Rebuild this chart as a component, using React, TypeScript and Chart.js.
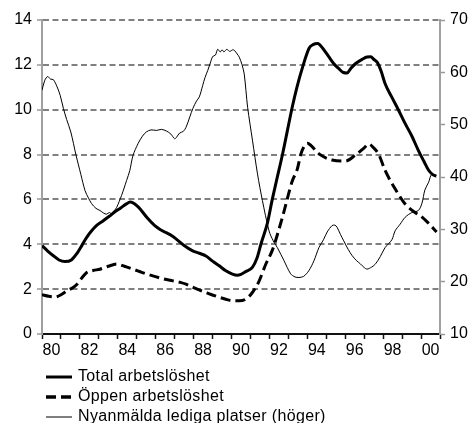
import React, { useEffect, useRef } from "react";
import { Chart, registerables } from "chart.js";

Chart.register(...registerables);

// ---- Data ----
const totalYears = [1980.0, 1980.3, 1980.6, 1980.9, 1981.2, 1981.55, 1981.85, 1982.1, 1982.35, 1982.62, 1982.9, 1983.23, 1983.55, 1983.85, 1984.15, 1984.45, 1984.65, 1984.8, 1985.0, 1985.2, 1985.55, 1985.95, 1986.25, 1986.55, 1986.85, 1987.1, 1987.5, 1987.95, 1988.3, 1988.65, 1989.0, 1989.35, 1989.7, 1990.05, 1990.3, 1990.5, 1990.75, 1991.1, 1991.35, 1991.55, 1991.9, 1992.15, 1992.35, 1992.7, 1993.2, 1993.45, 1993.75, 1994.1, 1994.3, 1994.55, 1994.8, 1995.1, 1995.4, 1995.65, 1995.9, 1996.1, 1996.3, 1996.55, 1996.9, 1997.15, 1997.35, 1997.5, 1997.7, 1997.9, 1998.1, 1998.45, 1998.8, 1999.15, 1999.5, 1999.85, 2000.15, 2000.4, 2000.6, 2000.8];
const totalValues = [3.94, 3.7, 3.49, 3.3, 3.23, 3.3, 3.6, 3.94, 4.3, 4.6, 4.85, 5.05, 5.25, 5.45, 5.62, 5.8, 5.88, 5.85, 5.72, 5.55, 5.18, 4.83, 4.65, 4.52, 4.38, 4.22, 3.95, 3.71, 3.6, 3.48, 3.25, 3.04, 2.82, 2.67, 2.62, 2.66, 2.78, 2.97, 3.4, 4.0, 4.97, 6.0, 6.75, 8.05, 10.1, 11.0, 11.9, 12.75, 12.9, 12.95, 12.75, 12.4, 12.05, 11.84, 11.66, 11.64, 11.85, 12.06, 12.25, 12.35, 12.36, 12.25, 12.1, 11.7, 11.17, 10.57, 10.0, 9.4, 8.85, 8.2, 7.7, 7.3, 7.12, 7.03];

const oppenYears = [1980.0, 1980.35, 1980.7, 1981.0, 1981.3, 1981.6, 1981.85, 1982.1, 1982.36, 1982.7, 1983.05, 1983.5, 1983.95, 1984.35, 1984.8, 1985.3, 1985.85, 1986.4, 1986.9, 1987.3, 1987.6, 1988.1, 1988.65, 1989.2, 1989.7, 1990.0, 1990.4, 1990.76, 1991.1, 1991.46, 1991.8, 1992.16, 1992.68, 1993.21, 1993.47, 1993.65, 1993.82, 1994.0, 1994.2, 1994.6, 1995.3, 1996.0, 1996.54, 1997.0, 1997.24, 1997.5, 1997.76, 1998.11, 1998.7, 1999.16, 1999.68, 2000.0, 2000.38, 2000.82];
const oppenValues = [1.75, 1.68, 1.65, 1.75, 1.92, 2.05, 2.22, 2.5, 2.74, 2.83, 2.89, 3.02, 3.12, 3.02, 2.89, 2.74, 2.59, 2.46, 2.37, 2.3, 2.22, 2.03, 1.85, 1.68, 1.55, 1.49, 1.48, 1.56, 1.85, 2.37, 3.1, 3.75, 5.19, 6.83, 7.35, 8.0, 8.35, 8.5, 8.4, 8.04, 7.76, 7.71, 7.98, 8.3, 8.47, 8.3, 8.02, 7.28, 6.38, 5.8, 5.42, 5.25, 4.95, 4.55];

const platserYears = [1980.0, 1980.15, 1980.3, 1980.45, 1980.6, 1980.8, 1980.96, 1981.13, 1981.3, 1981.52, 1981.8, 1982.05, 1982.27, 1982.45, 1982.62, 1982.85, 1983.06, 1983.25, 1983.4, 1983.55, 1983.67, 1983.8, 1983.94, 1984.2, 1984.46, 1984.63, 1984.8, 1985.07, 1985.3, 1985.5, 1985.75, 1986.04, 1986.3, 1986.56, 1986.8, 1987.0, 1987.1, 1987.26, 1987.45, 1987.6, 1987.8, 1987.96, 1988.15, 1988.3, 1988.48, 1988.6, 1988.75, 1988.9, 1989.0, 1989.15, 1989.27, 1989.4, 1989.5, 1989.6, 1989.75, 1989.9, 1990.06, 1990.15, 1990.3, 1990.41, 1990.55, 1990.67, 1990.85, 1991.11, 1991.37, 1991.63, 1991.98, 1992.2, 1992.42, 1992.77, 1993.12, 1993.35, 1993.56, 1993.8, 1994.08, 1994.35, 1994.61, 1994.85, 1995.05, 1995.3, 1995.45, 1995.57, 1995.75, 1995.92, 1996.15, 1996.36, 1996.6, 1996.8, 1997.0, 1997.15, 1997.4, 1997.6, 1997.85, 1998.1, 1998.46, 1998.63, 1998.9, 1999.16, 1999.51, 1999.86, 2000.05, 2000.2, 2000.4, 2000.56, 2000.8];
const platserValues = [56.6, 58.5, 59.2, 58.7, 58.6, 57.2, 55.6, 53.1, 51.0, 48.6, 44.1, 40.5, 37.4, 36.0, 34.9, 34.0, 33.6, 33.1, 32.9, 33.2, 33.0, 33.5, 34.2, 36.5, 39.3, 41.2, 44.1, 46.4, 47.8, 48.6, 49.0, 48.9, 49.1, 48.8, 48.2, 47.3, 47.6, 48.4, 48.7, 49.5, 51.5, 53.1, 54.5, 55.3, 57.5, 59.0, 60.4, 62.0, 63.0, 63.3, 64.4, 63.9, 64.3, 63.9, 64.4, 64.0, 64.3, 64.2, 63.5, 62.9, 61.5, 59.7, 53.3, 46.9, 40.6, 35.5, 29.7, 27.8, 26.5, 24.0, 21.5, 20.9, 20.8, 21.0, 22.1, 24.0, 26.5, 28.0, 29.5, 30.7, 30.8, 30.4, 29.0, 27.8, 26.2, 25.0, 24.0, 23.4, 22.7, 22.4, 22.8, 23.4, 24.8, 26.5, 28.0, 29.7, 31.0, 32.3, 33.2, 33.6, 35.0, 37.5, 39.0, 40.5, 40.0];

const seriesNames = ["Total arbetslöshet", "Öppen arbetslöshet", "Nyanmälda lediga platser (höger)"];

const xMin = 1980;
const xMax = 2001;
const labelYears = [1980, 1982, 1984, 1986, 1988, 1990, 1992, 1994, 1996, 1998, 2000];
const leftMin = 0, leftMax = 14, leftStep = 2;
const rightMin = 10, rightMax = 70, rightStep = 10;

const FONT = '"Liberation Sans", Arial, sans-serif';
const FONT_SIZE = 16;

const toPoints = (xs: number[], ys: number[]) => xs.map((x, i) => ({ x, y: ys[i] }));

const legendPlugin = {
  id: "customLegend",
  afterDraw(chart: any) {
    const ctx = chart.ctx as CanvasRenderingContext2D;
    const items = [
      { text: seriesNames[0], width: 3, dash: [] as number[] },
      { text: seriesNames[1], width: 3.5, dash: [10, 5] },
      { text: seriesNames[2], width: 1, dash: [] as number[] },
    ];
    const x0 = 46, x1 = 72, tx = 78;
    const yStart = 377, dy = 20;
    ctx.save();
    items.forEach((it, i) => {
      const y = yStart + i * dy;
      ctx.beginPath();
      ctx.setLineDash(it.dash);
      ctx.lineWidth = it.width;
      ctx.strokeStyle = "#000";
      ctx.moveTo(x0, y);
      ctx.lineTo(x1, y);
      ctx.stroke();
      ctx.setLineDash([]);
      ctx.fillStyle = "#000";
      ctx.font = `${FONT_SIZE}px ${FONT}`;
      (ctx as any).letterSpacing = "0.35px";
      ctx.textBaseline = "middle";
      ctx.textAlign = "left";
      ctx.fillText(it.text, tx, y);
      (ctx as any).letterSpacing = "0px";
    });
    ctx.restore();
  },
};

export default function App() {
  const canvasRef = useRef<HTMLCanvasElement | null>(null);

  useEffect(() => {
    if (!canvasRef.current) return;
    const chart = new Chart(canvasRef.current, {
      type: "line",
      data: {
        datasets: [
          {
            label: seriesNames[0],
            data: toPoints(totalYears, totalValues),
            borderColor: "#000",
            borderWidth: 3,
            pointRadius: 0,
            tension: 0.4,
            cubicInterpolationMode: "monotone",
            fill: false,
            yAxisID: "y",
          },
          {
            label: seriesNames[1],
            data: toPoints(oppenYears, oppenValues),
            borderColor: "#000",
            borderWidth: 3,
            borderDash: [10, 5],
            pointRadius: 0,
            tension: 0.4,
            cubicInterpolationMode: "monotone",
            fill: false,
            yAxisID: "y",
          },
          {
            label: seriesNames[2],
            data: toPoints(platserYears, platserValues),
            borderColor: "#000",
            borderWidth: 1,
            pointRadius: 0,
            tension: 0.3,
            fill: false,
            yAxisID: "y2",
          },
        ],
      },
      options: {
        responsive: false,
        animation: false,
        devicePixelRatio: 1,
        layout: { padding: { left: 0, right: 0, top: 20, bottom: 68 } },
        plugins: {
          legend: { display: false },
          tooltip: { enabled: false },
        },
        scales: {
          x: {
            type: "linear",
            position: "bottom",
            min: xMin,
            max: xMax,
            afterBuildTicks: (axis: any) => {
              const ticks: any[] = [];
              for (let v = xMin; v <= xMax; v++) ticks.push({ value: v });
              labelYears.forEach((y) => ticks.push({ value: y + 0.5 }));
              ticks.sort((a, b) => a.value - b.value);
              axis.ticks = ticks;
            },
            afterFit: (scale: any) => {
              scale.height = 21;
            },
            ticks: {
              autoSkip: false,
              maxRotation: 0,
              minRotation: 0,
              padding: 2,
              color: "#000",
              font: { family: FONT, size: FONT_SIZE },
              callback: (value: any) => {
                const v = Number(value);
                if (Math.abs(v - Math.floor(v) - 0.5) < 1e-6) {
                  const yr = Math.floor(v) % 100;
                  return String(yr).padStart(2, "0");
                }
                return "";
              },
            },
            grid: {
              display: true,
              drawOnChartArea: false,
              drawTicks: true,
              tickLength: 5,
              tickWidth: 1.5,
              tickColor: (ctx: any) =>
                ctx.tick && Number.isInteger(ctx.tick.value) ? "#111" : "rgba(0,0,0,0)",
            },
            border: { display: true, color: "#111", width: 2 },
          },
          y: {
            type: "linear",
            position: "left",
            min: leftMin,
            max: leftMax,
            afterFit: (scale: any) => {
              scale.width = 42;
            },
            ticks: {
              stepSize: leftStep,
              padding: 5,
              color: "#000",
              font: { family: FONT, size: FONT_SIZE },
            },
            grid: {
              display: true,
              drawOnChartArea: true,
              drawTicks: true,
              tickLength: 5,
              color: "#808080",
              lineWidth: 2,
              tickColor: "#999",
              tickWidth: 1.5,
            },
            border: { display: true, color: "#a0a0a0", width: 2, dash: [6, 3.5] },
          },
          y2: {
            type: "linear",
            position: "right",
            min: rightMin,
            max: rightMax,
            afterFit: (scale: any) => {
              scale.width = 31;
            },
            ticks: {
              stepSize: rightStep,
              padding: 5,
              color: "#000",
              font: { family: FONT, size: FONT_SIZE },
            },
            grid: {
              display: true,
              drawOnChartArea: false,
              drawTicks: true,
              tickLength: 5,
              tickColor: "#999",
              tickWidth: 1.5,
            },
            border: { display: true, color: "#a0a0a0", width: 2 },
          },
        },
      } as any,
      plugins: [legendPlugin],
    });
    return () => chart.destroy();
  }, []);

  return (
    <div style={{ position: "absolute", left: 0, top: 0, width: 471, height: 423, background: "#fff" }}>
      <canvas ref={canvasRef} width={471} height={423} style={{ display: "block", width: 471, height: 423 }} />
    </div>
  );
}
